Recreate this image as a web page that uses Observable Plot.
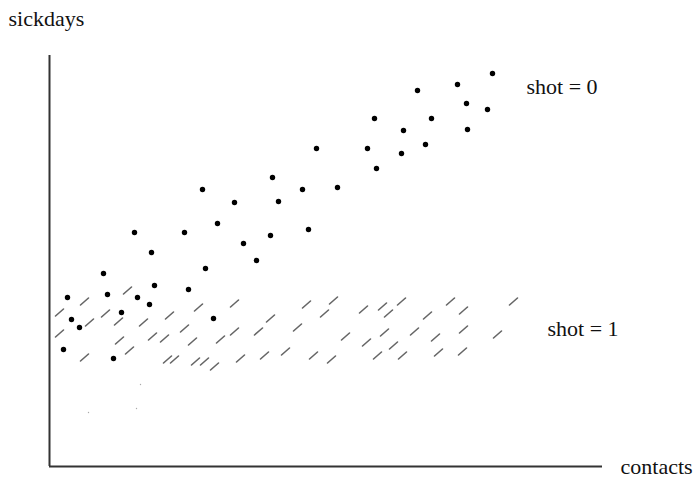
<!DOCTYPE html>
<html>
<head>
<meta charset="utf-8">
<script src="https://cdn.jsdelivr.net/npm/d3@7"></script>
<script src="https://cdn.jsdelivr.net/npm/@observablehq/plot@0.6"></script>
<style>
  html, body { margin: 0; padding: 0; background: #fff; }
  #chart svg { display: block; }
</style>
</head>
<body>
<div id="chart"></div>
<script>
// shot = 0 (dots): contacts, sickdays (arbitrary units)
const shot0Contacts = [18, 22, 30, 14, 64, 72, 54, 58, 85, 88, 102, 105, 100, 135, 139, 153, 156, 164, 168, 185, 194, 207, 221, 223, 229, 253, 259, 267, 288, 318, 325, 327, 352, 354, 368, 376, 382, 408, 417, 418, 438, 443];
const shot0Sickdays = [169, 147, 139, 117, 108, 154, 193, 172, 234, 169, 214, 181, 162, 234, 177, 277, 198, 148, 243, 264, 223, 206, 231, 289, 265, 277, 237, 318, 279, 318, 348, 298, 313, 336, 376, 322, 348, 382, 363, 337, 357, 393];

// shot = 1 (slashes)
const shot1Contacts = [10, 35, 78, 56, 40, 10, 69, 94, 120, 149, 185, 70, 80, 35, 103, 115, 135, 143, 118, 125, 146, 155, 165, 171, 185, 191, 209, 221, 215, 236, 248, 257, 284, 275, 264, 282, 296, 314, 333, 352, 339, 317, 335, 344, 328, 353, 365, 378, 401, 414, 386, 414, 389, 413, 448, 464];
const shot1Sickdays = [154, 165, 176, 153, 144, 133, 145, 144, 151, 159, 163, 126, 116, 109, 130, 128, 138, 125, 107, 107, 105, 105, 100, 127, 135, 108, 135, 148, 111, 115, 139, 162, 166, 153, 111, 107, 130, 157, 160, 165, 153, 124, 134, 121, 111, 111, 135, 151, 165, 156, 129, 137, 114, 115, 132, 165];

// faint specks in the picture
const speckContacts = [91, 39, 87];
const speckSickdays = [82, 54, 58];

const axisTitles = ["sickdays", "contacts"];
const groupLabels = ["shot = 0", "shot = 1"];

const shot0 = shot0Contacts.map((c, i) => ({contacts: c, sickdays: shot0Sickdays[i]}));
const shot1 = shot1Contacts.map((c, i) => ({contacts: c, sickdays: shot1Sickdays[i]}));
const specks = speckContacts.map((c, i) => ({contacts: c, sickdays: speckSickdays[i]}));

const slash = {
  draw(context) {
    context.moveTo(-4, 3.5);
    context.lineTo(4, -3.5);
  }
};

const font = "'Liberation Serif', 'Times New Roman', serif";

const chart = Plot.plot({
  width: 694,
  height: 480,
  margin: 0,
  x: {domain: [-49, 645], axis: null},
  y: {domain: [-14, 466], axis: null},
  marks: [
    Plot.ruleX([0], {y1: 0, y2: 411, stroke: "#333", strokeWidth: 2}),
    Plot.ruleY([0], {x1: 0, x2: 553, stroke: "#333", strokeWidth: 2}),
    Plot.dot(specks, {x: "contacts", y: "sickdays", r: 0.7, fill: "#aaa", stroke: "none"}),
    Plot.dot(shot1, {x: "contacts", y: "sickdays", symbol: slash, fill: "none", stroke: "#666", strokeWidth: 1.6, strokeLinecap: "round"}),
    Plot.dot(shot0, {x: "contacts", y: "sickdays", r: 2.7, fill: "#000", stroke: "none"}),
    Plot.text([axisTitles[0]], {x: -41, y: 448, text: d => d, textAnchor: "start", fontSize: 22, fontFamily: font, fill: "#111"}),
    Plot.text([axisTitles[1]], {x: 571, y: 0, text: d => d, textAnchor: "start", fontSize: 22, fontFamily: font, fill: "#111"}),
    Plot.text([groupLabels[0]], {x: 477, y: 380, text: d => d, textAnchor: "start", fontSize: 22, fontFamily: font, fill: "#111"}),
    Plot.text([groupLabels[1]], {x: 498, y: 138, text: d => d, textAnchor: "start", fontSize: 22, fontFamily: font, fill: "#111"})
  ]
});
document.getElementById("chart").appendChild(chart);
</script>
</body>
</html>
